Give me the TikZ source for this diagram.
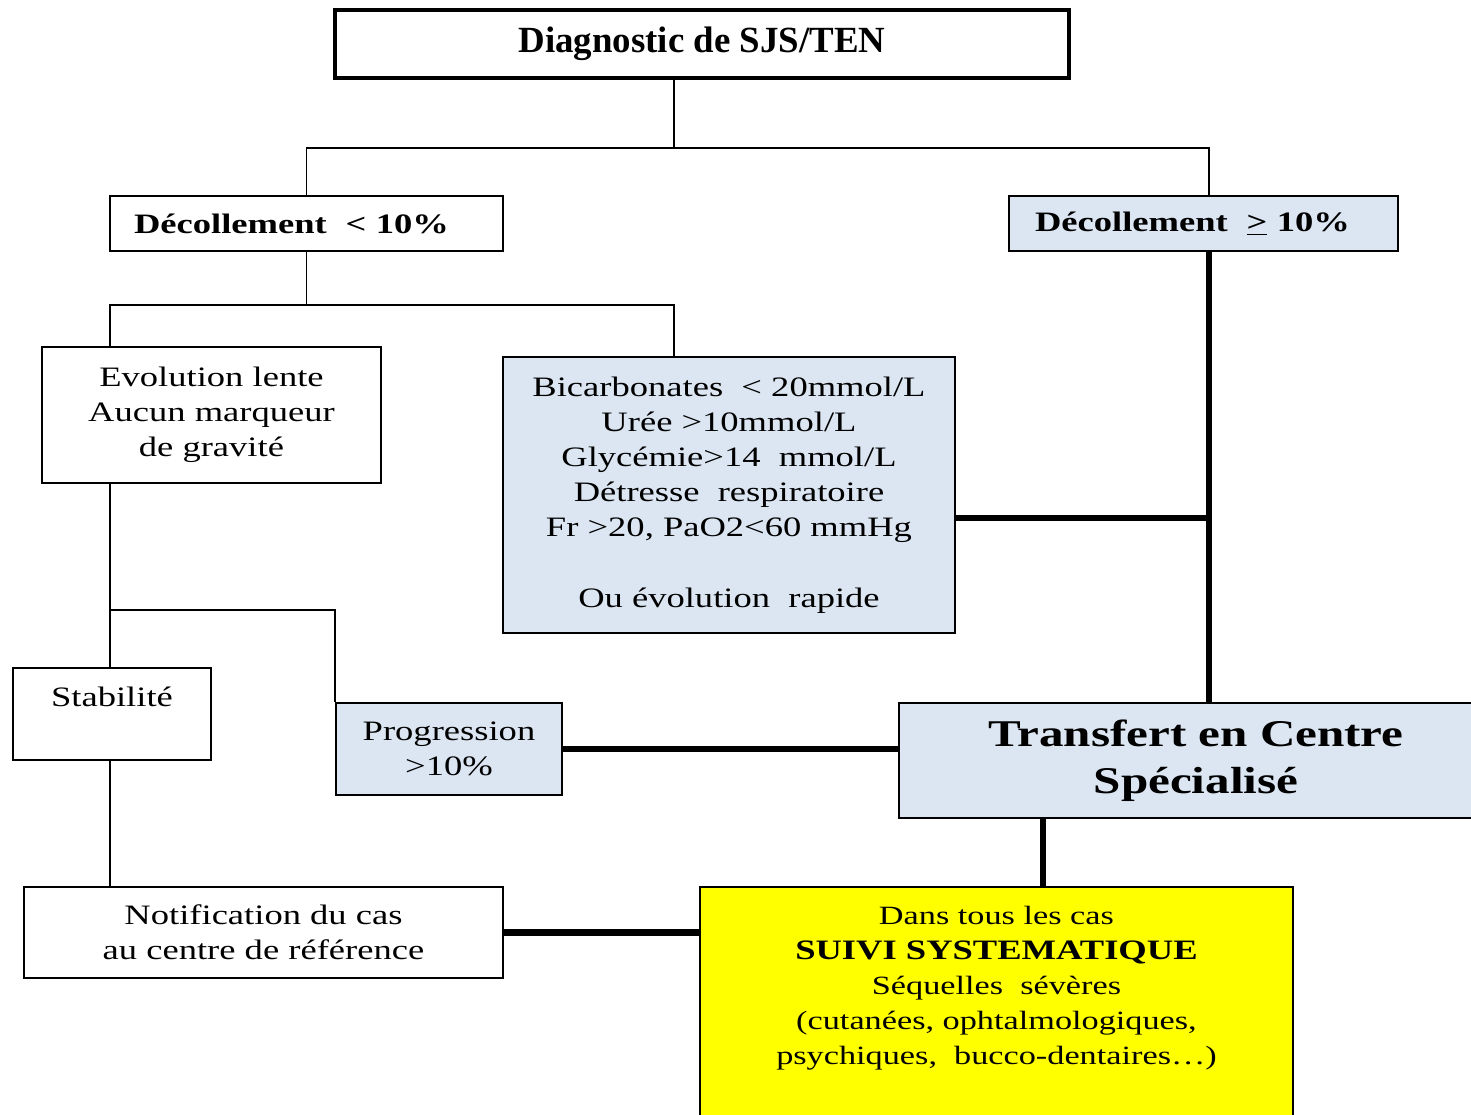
\documentclass[tikz,border=0pt]{standalone}
\usepackage{fontspec}
\setmainfont{Liberation Serif}[FakeStretch=1.3]
\newfontfamily\titlefont{Liberation Serif}
\definecolor{myBlue}{HTML}{DCE6F2}
\definecolor{myYellow}{HTML}{FFFF00}

\begin{document}
\begin{tikzpicture}[x=0.02cm, y=-0.02cm, line width=1pt]
  \tikzstyle{W}=[draw, fill=white, align=center, inner sep=0pt, font=\fontsize{16}{20}\selectfont]
  \tikzstyle{L}=[W, fill=myBlue]
  \tikzstyle{Y}=[W, fill=myYellow]
  \tikzstyle{N}=[line width=1pt]
  \tikzstyle{H}=[line width=3.8pt]

  \useasboundingbox (0,0) rectangle (1471,1115);
  \fill[white] (0,0) rectangle (1471,1115);

  \node[W, line width=2.2pt, minimum width=14.68cm, minimum height=1.36cm, font=\titlefont\fontsize{21}{24}\selectfont\bfseries] at (702,44) (DX) {Diagnostic de SJS/TEN};

  \node[W, text width=6.9cm, inner xsep=0.48cm, minimum height=1.1cm, align=left, font=\fontsize{16}{20}\selectfont\bfseries] at (306.5,223.5) (DL) {Décollement~ < 10\%};
  \node[L, text width=6.74cm, inner xsep=0.52cm, minimum height=1.1cm, align=left, font=\fontsize{16}{20}\selectfont\bfseries] at (1203.5,223.5) (DR) {Décollement~ \underline{>} 10\%};

  \node[W, minimum width=6.78cm, minimum height=2.72cm] at (211.5,415) (EV) {Evolution lente\\Aucun marqueur\\de gravité};
  \node[L, minimum width=9.04cm, minimum height=5.52cm] at (729,495) (BI) {Bicarbonates~ < 20mmol/L\\Urée >10mmol/L\\Glycémie>14~ mmol/L\\Détresse~ respiratoire\\Fr >20, PaO2<60 mmHg\\[20pt]Ou évolution~ rapide};

  \node[W, minimum width=3.96cm, minimum height=1.84cm] at (112,714) (ST) {Stabilité\\~};
  \node[L, minimum width=4.52cm, minimum height=1.84cm] at (449,749) (PR) {Progression\\>10\%};
  \node[L, minimum width=11.88cm, minimum height=2.3cm, font=\fontsize{21.5}{26.6}\selectfont\bfseries] at (1196,760.5) (TC) {Transfert en Centre\\Spécialisé};

  \node[W, minimum width=9.58cm, minimum height=1.82cm] at (263.5,932.5) (NO) {Notification du cas\\au centre de référence};
  \node[Y, minimum width=11.86cm, minimum height=5.06cm] at (996.5,1013.5) (SU) {};
  \node[anchor=north, align=center, inner ysep=0.38cm, font=\fontsize{15}{20}\selectfont] at (SU.north) (SUt) {Dans tous les cas\\{\fontsize{16}{20}\selectfont\bfseries SUIVI SYSTEMATIQUE}\\Séquelles~ sévères\\(cutanées, ophtalmologiques,\\psychiques,~ bucco-dentaires\ldots)};

  \coordinate (j1) at (674,148);
  \coordinate (j2) at (306.5,305);
  \coordinate (j3) at (110,610);
  \coordinate (j4) at (1209,518);
  \coordinate (j5) at (1043,850);

  \draw[N] (DX.south -| j1) -- (j1) -| (DL.north);
  \draw[N] (j1) -| (DR.north -| j4);
  \draw[N] (DL.south) -- (j2) -| (EV.north -| j3);
  \draw[N] (j2) -| (BI.north -| j1);
  \draw[N] (EV.south -| j3) -- (ST.north -| j3);
  \draw[N] (j3) -| (PR.north west);
  \draw[N] (ST.south -| j3) -- (NO.north -| j3);

  \draw[H] (DR.south -| j4) -- (TC.north -| j4);
  \draw[H] (BI.east |- j4) -- (j4);
  \draw[H] (PR.east) -- (PR.east -| TC.west);
  \draw[H] (TC.south -| j5) -- (SU.north -| j5);
  \draw[H] (NO.east) -- (NO.east -| SU.west);

\end{tikzpicture}
\end{document}
